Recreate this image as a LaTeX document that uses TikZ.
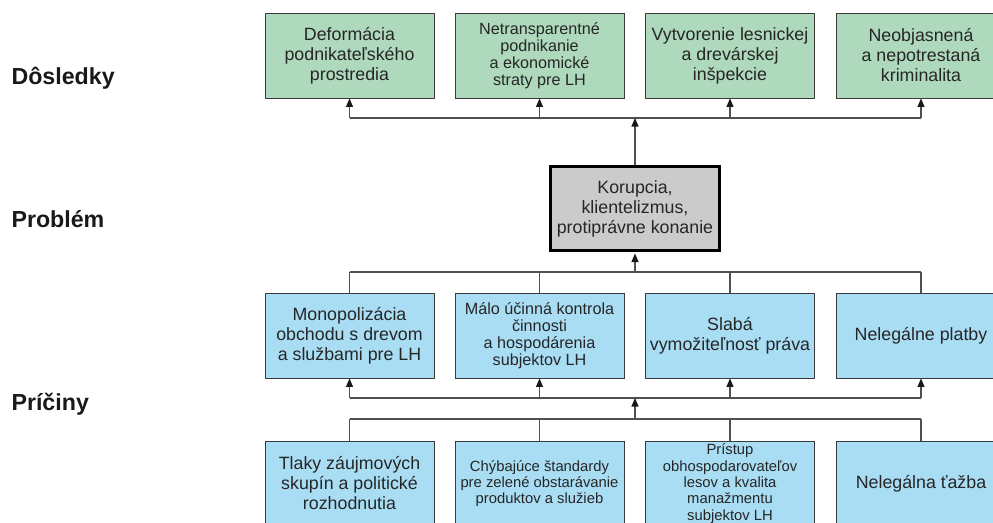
\documentclass[tikz,border=0pt]{standalone}
\usepackage{fontspec}
\setmainfont{Liberation Sans}
\usetikzlibrary{arrows.meta}
\definecolor{effectgreen}{HTML}{AED9BC}
\definecolor{causeblue}{HTML}{A9DDF4}
\definecolor{coregray}{HTML}{CBCBCB}
\definecolor{linkgray}{HTML}{505050}
\definecolor{edgegray}{HTML}{3A3A3A}
\begin{document}
\begin{tikzpicture}[x=1pt,y=-1pt,
  box/.style={draw=edgegray, line width=0.9pt, minimum width=169pt, minimum height=85pt,
    inner sep=1pt, align=center, font=\fontsize{17.8}{20}\selectfont, text=black!85},
  effect/.style={box, fill=effectgreen},
  cause/.style={box, fill=causeblue},
  small/.style={font=\fontsize{16.2}{17}\selectfont},
  smaller/.style={font=\fontsize{14.8}{16.3}\selectfont},
  core/.style={box, fill=coregray, draw=black, line width=3pt, minimum width=169pt, minimum height=84pt},
  link/.style={draw=linkgray, line width=1.1pt},
  arr/.style={link, -{Triangle[length=8.5pt,width=7pt,color=black!90]}},
  level/.style={anchor=base west, font=\fontsize{23.2}{26}\selectfont\bfseries, text=black!90},
]
\useasboundingbox (0,0) rectangle (993,522);
\clip (0,0) rectangle (993,522);

% level labels
\node[level] (lvlA) at (8,84) {Dôsledky};
\node[level] (lvlB) at (8,227) {Problém};
\node[level] (lvlC) at (8,410) {Príčiny};

% consequences
\node[effect] (d1) at (349.5,55.5) {Deformácia\\podnikateľského\\prostredia};
\node[effect,small] (d2) at (539.5,55.5) {Netransparentné\\podnikanie\\a ekonomické\\straty pre LH};
\node[effect] (d3) at (730,55.5) {Vytvorenie lesnickej\\a drevárskej\\inšpekcie};
\node[effect] (d4) at (921,55.5) {Neobjasnená\\a nepotrestaná\\kriminalita};

% core problem
\node[core] (core) at (635,208.5) {Korupcia,\\klientelizmus,\\protiprávne konanie};

% direct causes
\node[cause] (m1) at (349.5,335.5) {Monopolizácia\\obchodu s drevom\\a službami pre LH};
\node[cause,small] (m2) at (539.5,335.5) {Málo účinná kontrola\\činnosti\\a hospodárenia\\subjektov LH};
\node[cause] (m3) at (730,335.5) {Slabá\\vymožiteľnosť práva};
\node[cause] (m4) at (921,335.5) {Nelegálne platby};

% root causes
\node[cause] (b1) at (349.5,483.5) {Tlaky záujmových\\skupín a politické\\rozhodnutia};
\node[cause,smaller] (b2) at (539.5,483.5) {Chýbajúce štandardy\\pre zelené obstarávanie\\produktov a služieb};
\node[cause,smaller] (b3) at (730,483.5) {Prístup\\obhospodarovateľov\\lesov a kvalita\\manažmentu\\subjektov LH};
\node[cause] (b4) at (921,483.5) {Nelegálna ťažba};

% bus junctions
\coordinate (topbus) at (635,118);
\coordinate (midbus) at (635,272);
\coordinate (lowbus) at (635,398);
\coordinate (basebus) at (635,419);

% problem -> consequences
\draw[link] (d1.south |- topbus) -- (d4.south |- topbus);
\foreach \n in {d1,d2,d3,d4} \draw[arr] (\n.south |- topbus) -- (\n.south);
\draw[arr] (core.north) -- (topbus);

% direct causes -> problem
\draw[link] (m1.north |- midbus) -- (m4.north |- midbus);
\foreach \n in {m1,m2,m3,m4} \draw[link] (\n.north) -- (\n.north |- midbus);
\draw[arr, shorten >=1.5pt] (midbus) -- (core.south);

% root causes -> direct causes
\draw[link] (m1.south |- lowbus) -- (m4.south |- lowbus);
\foreach \n in {m1,m2,m3,m4} \draw[arr] (\n.south |- lowbus) -- (\n.south);
\draw[arr] (basebus) -- (lowbus);
\draw[link] (b1.north |- basebus) -- (b4.north |- basebus);
\foreach \n in {b1,b2,b3,b4} \draw[link] (\n.north) -- (\n.north |- basebus);
\end{tikzpicture}
\end{document}
